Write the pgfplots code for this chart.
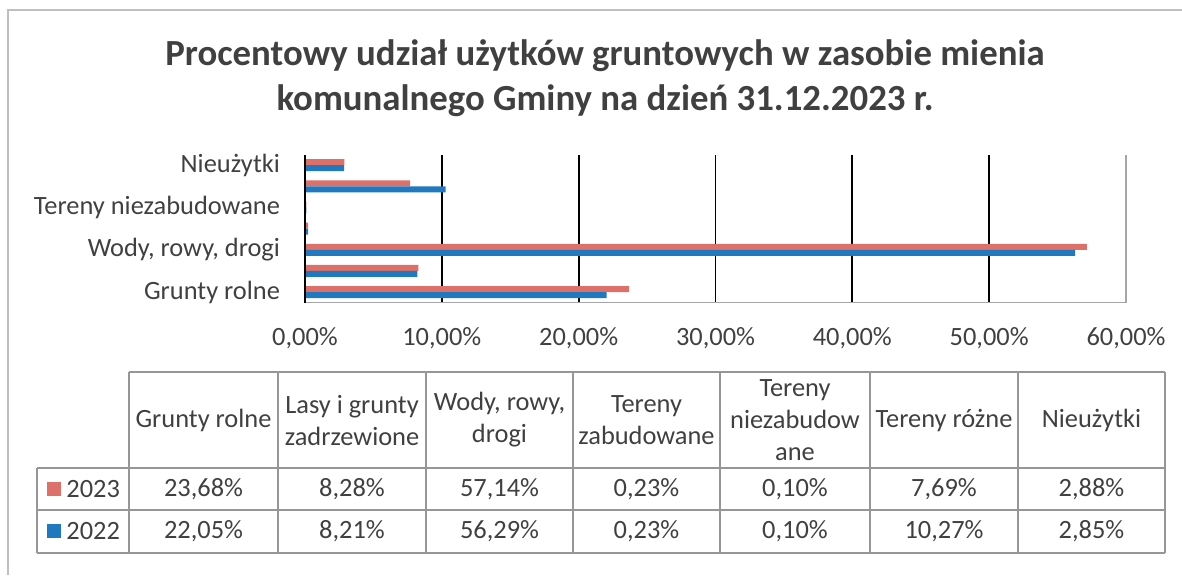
\documentclass[border=0pt]{standalone}
\usepackage{pgfplots}
\pgfplotsset{compat=1.18}
\usepackage{fontspec}
\setmainfont{Carlito}
\definecolor{c23}{RGB}{222,112,106}
\definecolor{c22}{RGB}{32,120,190}
\definecolor{txt}{RGB}{64,64,64}
\definecolor{tlinecol}{RGB}{150,150,150}

\begin{document}
\begin{tikzpicture}
\begin{scope}[x=0.5pt,y=-0.5pt]
\useasboundingbox (0,0) rectangle (1182,575);
\draw[gray!50, line width=0.6pt] (8,575) -- (8,10) -- (1182,10);
\node[font=\bfseries\fontsize{18.4}{22.5}\selectfont, text=txt, align=center] at (605,78) {Procentowy udział użytków gruntowych w zasobie mienia\\komunalnego Gminy na dzień 31.12.2023 r.};
\end{scope}

\begin{axis}[
  at={(152.5pt,-151.3pt)}, anchor=south west,
  scale only axis, width=410.5pt, height=74pt,
  xbar, bar width=3pt,
  xmin=0, xmax=60, ymin=0.5, ymax=7.5,
  ytick={1,3,5,7},
  yticklabels={Grunty rolne, {Wody, rowy, drogi}, Tereny niezabudowane, Nieużytki},
  xtick={10,20,30,40,50},
  xticklabels={{10,00\%},{20,00\%},{30,00\%},{40,00\%},{50,00\%}},
  extra x ticks={0,60},
  extra x tick labels={{0,00\%},{60,00\%}},
  extra x tick style={grid=none},
  xmajorgrids, grid style={black, line width=0.9pt},
  major tick length=0pt,
  axis line style={draw=none},
  tick label style={font=\fontsize{13.2}{15}\selectfont, text=txt},
  xticklabel style={yshift=-9pt},
  yticklabel style={xshift=-9pt},
  clip=false,
]
\addplot[fill=c23, draw=none, bar shift=1.5pt] coordinates {(23.68,1) (8.28,2) (57.14,3) (0.23,4) (0.10,5) (7.69,6) (2.88,7)};
\addplot[fill=c22, draw=none, bar shift=-1.5pt] coordinates {(22.05,1) (8.21,2) (56.29,3) (0.23,4) (0.10,5) (10.27,6) (2.85,7)};
\draw[gray!70, line width=0.75pt] (rel axis cs:0,0) -- (rel axis cs:1,0) -- (rel axis cs:1,1);
\draw[black, line width=0.9pt] (rel axis cs:0,0) -- (rel axis cs:0,1);
\end{axis}

\begin{scope}[x=0.5pt,y=-0.5pt, tbl/.style={draw=tlinecol, line width=0.75pt},
  every node/.style={font=\fontsize{13.2}{16}\selectfont, text=txt, align=center, inner sep=0pt}]
\draw[tbl] (129,372) -- (1165,372);
\foreach \x in {129,278,426,573,720,870,1018,1165} \draw[tbl] (\x,372) -- (\x,553);
\foreach \y in {468,510,553} \draw[tbl] (37,\y) -- (1165,\y);
\draw[tbl] (37,468) -- (37,553);
% header
\node at (203.5,420) {Grunty rolne};
\node at (352,420) {Lasy i grunty\\zadrzewione};
\node at (499.5,420) {Wody, rowy,\\drogi};
\node at (646.5,420) {Tereny\\zabudowane};
\node at (795,420) {Tereny\\niezabudow\\ane};
\node at (944,420) {Tereny różne};
\node at (1091.5,420) {Nieużytki};
% legend keys
\fill[c23] (47,482) rectangle (61,496);
\fill[c22] (47,524) rectangle (61,538);
\node[anchor=west] at (66,489) {2023};
\node[anchor=west] at (66,531) {2022};
% 2023
\node at (203.5,489) {23,68\%};
\node at (352,489) {8,28\%};
\node at (499.5,489) {57,14\%};
\node at (646.5,489) {0,23\%};
\node at (795,489) {0,10\%};
\node at (944,489) {7,69\%};
\node at (1091.5,489) {2,88\%};
% 2022
\node at (203.5,531) {22,05\%};
\node at (352,531) {8,21\%};
\node at (499.5,531) {56,29\%};
\node at (646.5,531) {0,23\%};
\node at (795,531) {0,10\%};
\node at (944,531) {10,27\%};
\node at (1091.5,531) {2,85\%};
\end{scope}
\end{tikzpicture}
\end{document}
